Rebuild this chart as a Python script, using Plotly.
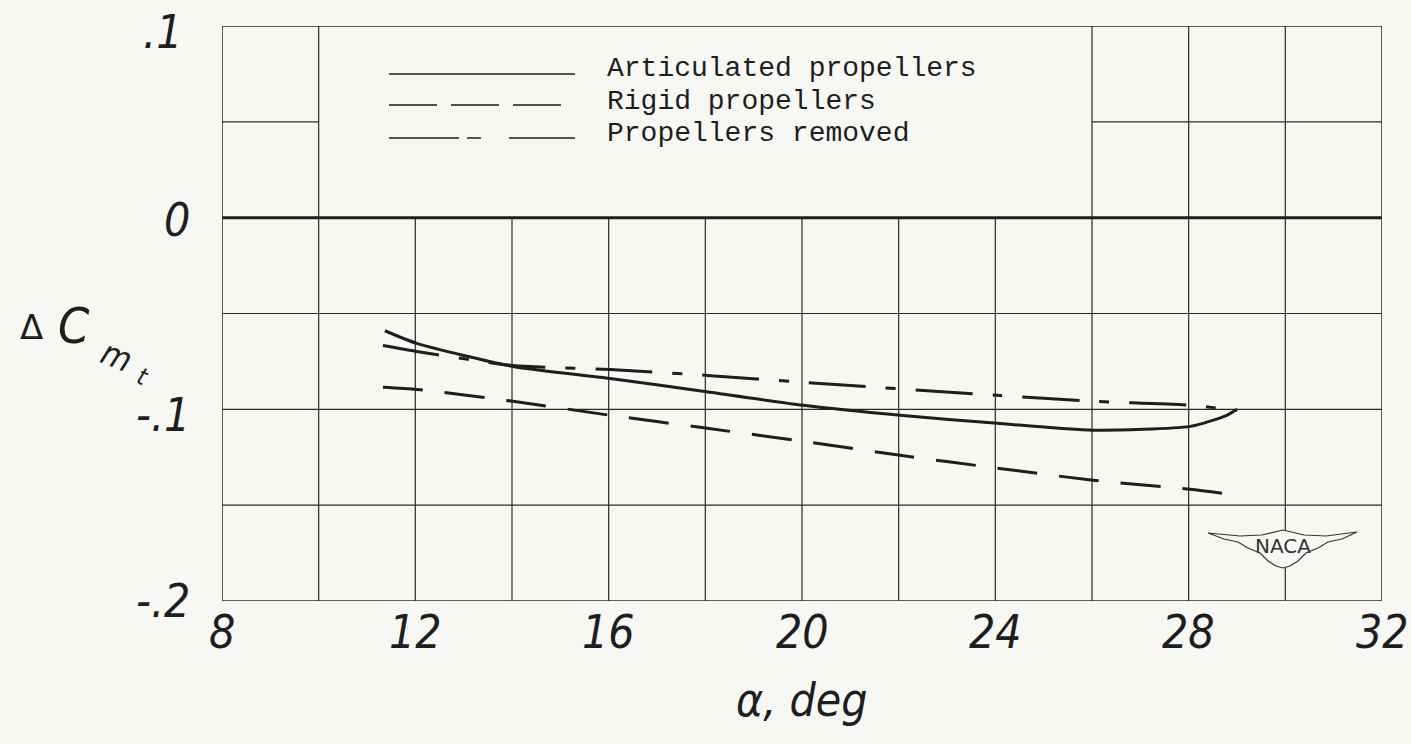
import plotly.graph_objects as go

# ---------------- data ----------------
alpha_art = [11.37, 12.03, 14.02, 16.03, 17.95, 20.02, 22.03, 24.04, 26.02, 28.03, 28.79, 29.0]
cm_art = [-0.0590, -0.0656, -0.0776, -0.0839, -0.0906, -0.0979, -0.1031, -0.1073, -0.1109, -0.1089, -0.1031, -0.1000]

alpha_rigid = [11.33, 12.03, 14.02, 16.03, 18.04, 20.02, 22.03, 24.04, 26.02, 28.03, 29.0]
cm_rigid = [-0.0885, -0.0896, -0.0958, -0.1031, -0.1099, -0.1167, -0.1240, -0.1307, -0.1370, -0.1417, -0.1448]

alpha_removed = [11.33, 12.03, 14.02, 16.03, 18.04, 20.02, 24.04, 26.02, 28.03, 29.0]
cm_removed = [-0.0667, -0.0698, -0.0771, -0.0792, -0.0823, -0.0859, -0.0927, -0.0958, -0.0979, -0.1005]

series_names = ["Articulated propellers", "Rigid propellers", "Propellers removed"]

x_tick_vals = [8, 12, 16, 20, 24, 28, 32]
x_tick_text = ["8", "12", "16", "20", "24", "28", "32"]
y_tick_vals = [0.1, 0.0, -0.1, -0.2]
y_tick_text = [".1", "0", "-.1", "-.2"]

x_grid = [10, 12, 14, 16, 18, 20, 22, 24, 26, 28, 30]
y_grid = [0.05, 0.0, -0.05, -0.1, -0.15]

X_RANGE = [8, 32]
Y_RANGE = [-0.2, 0.1]

# ---------------- layout helpers ----------------
W, H = 1411, 744
L, R, T, B = 222, 1382, 26, 601
BG = "#f7f7f4"
INK = "#1e1e1e"
HAND = "DejaVu Sans Condensed, DejaVu Sans, sans-serif"
TYPE = "Liberation Mono, Courier New, monospace"


def px(x):
    return (x - L) / (R - L)


def py(y):
    return (B - y) / (B - T)


styles = ["solid", "40px,22px", "57px,20px,10px,20px"]
legend_dash = ["solid", "48px,14px", "70px,8px,14px,28px"]

fig = go.Figure()
for xs, ys, name, d in zip(
    [alpha_art, alpha_rigid, alpha_removed],
    [cm_art, cm_rigid, cm_removed],
    series_names,
    styles,
):
    fig.add_trace(go.Scatter(
        x=xs, y=ys, mode="lines", name=name,
        line=dict(color=INK, width=3, dash=d, shape="spline", smoothing=0.6),
        showlegend=False,
    ))

shapes = []
grid_line = dict(color="#2a2a2a", width=1.2)
for gx in x_grid:
    top = 0.0 if 10 < gx < 26 else Y_RANGE[1]
    shapes.append(dict(type="line", xref="x", yref="y", x0=gx, x1=gx, y0=Y_RANGE[0], y1=top,
                       line=grid_line, layer="below"))
for gy in y_grid:
    if gy > 0:
        for a, b in [(8, 10), (26, 32)]:
            shapes.append(dict(type="line", xref="x", yref="y", x0=a, x1=b, y0=gy, y1=gy,
                               line=grid_line, layer="below"))
    elif gy == 0:
        shapes.append(dict(type="line", xref="x", yref="y", x0=X_RANGE[0], x1=X_RANGE[1], y0=0, y1=0,
                           line=dict(color=INK, width=3), layer="below"))
    else:
        shapes.append(dict(type="line", xref="x", yref="y", x0=X_RANGE[0], x1=X_RANGE[1], y0=gy, y1=gy,
                           line=grid_line, layer="below"))
shapes.append(dict(type="rect", xref="x", yref="y", x0=X_RANGE[0], x1=X_RANGE[1],
                   y0=Y_RANGE[0], y1=Y_RANGE[1], line=dict(color="#2a2a2a", width=1.5), layer="below"))

# key
key_rows = [74, 105, 138]
text_rows = [69, 101, 134]
annotations = []
for name, d, ly, ty in zip(series_names, legend_dash, key_rows, text_rows):
    shapes.append(dict(type="line", xref="paper", yref="paper", x0=px(389), x1=px(575),
                       y0=py(ly), y1=py(ly), line=dict(color=INK, width=1.6, dash=d)))
    annotations.append(dict(xref="paper", yref="paper", x=px(605), y=py(ty), text=name,
                            showarrow=False, xanchor="left", yanchor="middle",
                            font=dict(family=TYPE, size=28, color=INK)))

# NACA wings logo
pts = [(1208, 533), (1240, 536), (1262, 535), (1283, 530), (1304, 535), (1326, 536), (1357, 532),
       (1342, 539), (1328, 542), (1318, 548), (1306, 553), (1298, 561), (1290, 566), (1283, 568),
       (1276, 566), (1268, 561), (1260, 553), (1248, 548), (1238, 542), (1224, 539)]
path = "M " + " L ".join(f"{px(a):.5f},{py(b):.5f}" for a, b in pts) + " Z"
shapes.append(dict(type="path", xref="paper", yref="paper", path=path,
                   fillcolor=BG, line=dict(color="#333", width=1.2), layer="above"))
annotations.append(dict(xref="paper", yref="paper", x=px(1283), y=py(546), text="NACA",
                        showarrow=False, xanchor="center", yanchor="middle",
                        font=dict(family="DejaVu Sans", size=20, color="#333")))

# tick labels (hand lettered)
hand = dict(family=HAND, size=46, color=INK)
for v, t in zip(x_tick_vals, x_tick_text):
    annotations.append(dict(xref="x", yref="paper", x=v, y=py(632), text=f"<i>{t}</i>",
                            showarrow=False, xanchor="center", yanchor="middle", font=hand))
y_label_px = [(162, -6), (177, -2), (163, -6), (163, 0)]
for v, t, (lx, ys) in zip(y_tick_vals, y_tick_text, y_label_px):
    annotations.append(dict(xref="paper", yref="y", x=px(lx), y=v, yshift=ys, text=f"<i>{t}</i>",
                            showarrow=False, xanchor="center", yanchor="middle", font=hand))

# axis titles
annotations.append(dict(xref="x", yref="paper", x=20, y=py(700), text="<i>α, deg</i>",
                        showarrow=False, xanchor="center", yanchor="middle",
                        font=dict(family=HAND, size=46, color=INK)))
annotations.append(dict(xref="paper", yref="paper", x=px(31), y=py(327), text="Δ",
                        showarrow=False, xanchor="center", yanchor="middle",
                        font=dict(family="DejaVu Sans", size=34, color=INK)))
annotations.append(dict(xref="paper", yref="paper", x=px(74), y=py(326), text="<i>C</i>",
                        showarrow=False, xanchor="center", yanchor="middle",
                        font=dict(family=HAND, size=50, color=INK)))
annotations.append(dict(xref="paper", yref="paper", x=px(117), y=py(356), text="<i>m</i>",
                        showarrow=False, xanchor="center", yanchor="middle", textangle=22,
                        font=dict(family=HAND, size=34, color=INK)))
annotations.append(dict(xref="paper", yref="paper", x=px(143), y=py(377), text="<i>t</i>",
                        showarrow=False, xanchor="center", yanchor="middle", textangle=22,
                        font=dict(family=HAND, size=24, color=INK)))

fig.update_layout(
    width=W, height=H,
    margin=dict(l=L, r=W - R, t=T, b=H - B, pad=0),
    paper_bgcolor=BG, plot_bgcolor=BG,
    xaxis=dict(range=X_RANGE, showgrid=False, zeroline=False, showticklabels=False,
               ticks="", showline=False, fixedrange=True),
    yaxis=dict(range=Y_RANGE, showgrid=False, zeroline=False, showticklabels=False,
               ticks="", showline=False, fixedrange=True),
    shapes=shapes,
    annotations=annotations,
)

fig.write_html(
    "out.html",
    config={"displayModeBar": False, "staticPlot": True},
    post_script=(
        "document.body.style.margin='0';document.body.style.padding='0';"
        "document.body.style.overflow='hidden';"
        f"document.body.style.background='{BG}';"
    ),
)
